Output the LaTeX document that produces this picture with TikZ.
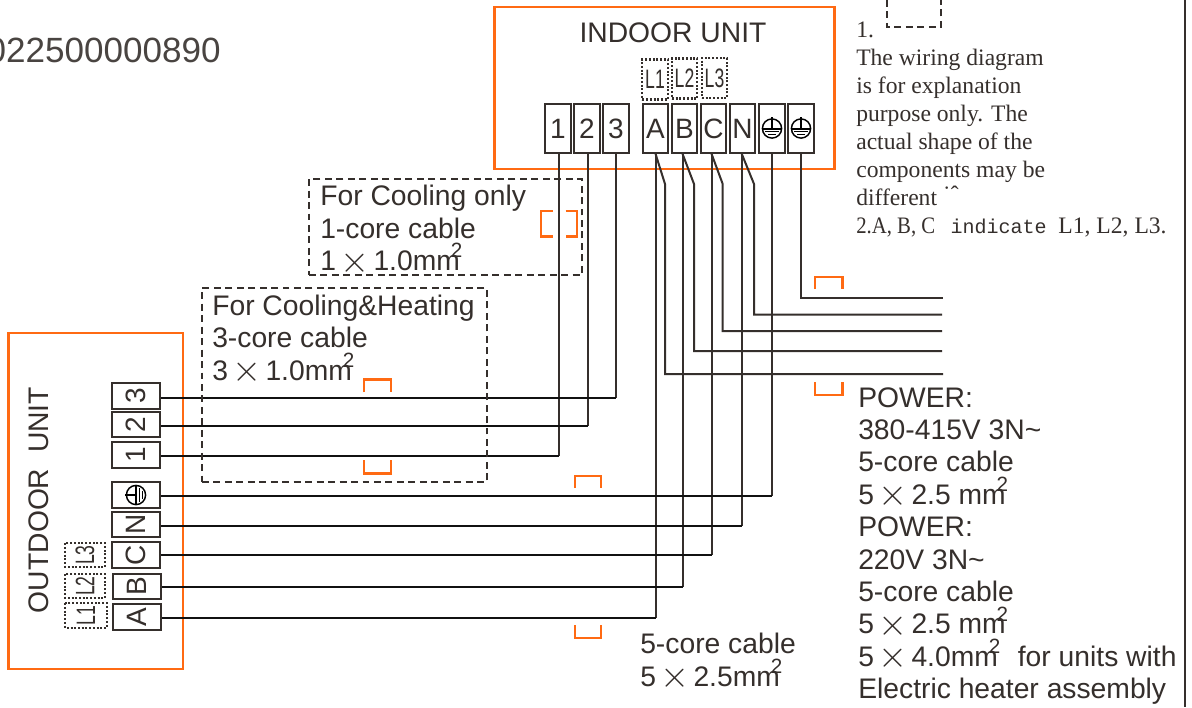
\documentclass[tikz,border=0pt]{standalone}
\usepackage{graphicx}
\usepackage{fontspec}
\setmainfont{Liberation Sans}
\newfontfamily\notefont{Liberation Serif}
\newfontfamily\monofont{Liberation Mono}
\definecolor{ink}{HTML}{352F2C}
\definecolor{wire}{HTML}{111111}
\definecolor{unit}{HTML}{FF6A13}
\newcommand{\sqmm}{\kern-0.32em\raisebox{0.45em}{\fontsize{15.5}{16}\selectfont 2}}
\newcommand{\tm}{\kern0.16em\raisebox{-0.06em}{\scalebox{1.35}{$\times$}}\kern0.14em}
\newcommand{\narrowL}[1]{\scalebox{0.66}[1]{#1}}
\tikzset{
  unitbox/.style={draw=unit,line width=2pt},
  terminal/.style={draw=ink,line width=1.35pt,minimum width=19pt,minimum height=36.5pt,inner sep=0pt,font=\fontsize{21}{21}\selectfont,text=ink},
  lbox/.style={draw=ink,line width=1.7pt,dash pattern=on 1.5pt off 1.3pt,inner sep=0pt,font=\fontsize{20}{20}\selectfont,text=ink,minimum width=19pt,minimum height=30pt},
  dashbox/.style={draw=ink,line width=0.95pt,dash pattern=on 5.2pt off 3.4pt},
  hwire/.style={draw=wire,line width=1.5pt,line join=miter},
  vwire/.style={draw=ink,line width=1.5pt},
  bracket/.style={draw=unit,line width=1.8pt},
  label/.style={inner sep=0pt,anchor=north west,align=left,text=ink,font=\fontsize{21.2}{24.3}\selectfont},
  earthline/.style={draw=black,line width=1.1pt}
}
\newcommand{\earthsym}[2]{%
  \begin{scope}[shift={(#1)},rotate=#2]
    \draw[earthline] (0,0) circle (7.2pt);
    \draw[earthline,line width=1.5pt] (-7.2pt,0) -- (7.2pt,0);
    \draw[earthline] (0,0) -- (0,8.5pt);
    \draw[earthline,line width=0.8pt] (-5pt,-2.4pt) -- (5pt,-2.4pt);
    \draw[earthline,line width=0.8pt] (-3pt,-4.6pt) -- (3pt,-4.6pt);
  \end{scope}}
\begin{document}
\begin{tikzpicture}[x=0.75pt,y=-0.75pt]
\useasboundingbox (0,0) rectangle (1192,707);
\fill[white] (0,0) rectangle (1192,707);
% units
\node[unitbox,minimum width=255pt,minimum height=121.5pt,inner sep=0pt] (indoor) at (664.5,88) {};
\node[unitbox,minimum width=131pt,minimum height=252pt,inner sep=0pt] (outdoor) at (95.7,501) {};
\node[inner sep=0pt,text=ink,font=\fontsize{21.2}{21}\selectfont] (indoorT) at (673,33) {INDOOR UNIT};
\node[inner sep=0pt,text=ink,rotate=90,font=\fontsize{21.2}{21}\selectfont] (outdoorT) at (39,500) {OUTDOOR\ \ UNIT};
% stray part number
\node[inner sep=0pt,anchor=base east,text=ink!90,font=\fontsize{26.3}{27}\selectfont] (partno) at (221,62.5) {022500000890};
% indoor terminals
\node[terminal] (i1) at (558,128.5) {1};
\node[terminal] (i2) at (587,128.5) {2};
\node[terminal] (i3) at (616,128.5) {3};
\node[terminal] (iA) at (655.5,128.5) {A};
\node[terminal] (iB) at (684.5,128.5) {B};
\node[terminal] (iC) at (713.5,128.5) {C};
\node[terminal] (iN) at (742.5,128.5) {N};
\node[terminal] (iE1) at (772,128.5) {};
\node[terminal] (iE2) at (801,128.5) {};
\earthsym{iE1}{0}
\earthsym{iE2}{0}
\node[lbox] (iL1) at (655,79.5) {\narrowL{L1}};
\node[lbox] (iL2) at (684.5,78.5) {\narrowL{L2}};
\node[lbox] (iL3) at (714.5,78) {\narrowL{L3}};
% outdoor terminals
\node[terminal,rotate=90] (o3) at (136,396) {3};
\node[terminal,rotate=90] (o2) at (136,424.5) {2};
\node[terminal,rotate=90] (o1) at (136,455) {1};
\node[terminal,rotate=90] (oE) at (136,495) {};
\node[terminal,rotate=90] (oN) at (136,524.5) {N};
\node[terminal,rotate=90] (oC) at (136,555) {C};
\node[terminal,rotate=90] (oB) at (137,586.5) {B};
\node[terminal,rotate=90] (oA) at (137,617) {A};
\earthsym{oE}{90}
\node[lbox,minimum width=17.5pt,minimum height=30pt,rotate=90] (oL3) at (85,555) {\narrowL{L3}};
\node[lbox,minimum width=17.5pt,minimum height=30pt,rotate=90] (oL2) at (85,586) {\narrowL{L2}};
\node[lbox,minimum width=18.5pt,minimum height=31pt,rotate=90] (oL1) at (86,615.5) {\narrowL{L1}};
% power line ends
\coordinate (pE) at (943,298);
\coordinate (pN) at (942,314.5);
\coordinate (pC) at (942,331);
\coordinate (pB) at (942,351);
\coordinate (pA) at (943,374);
\coordinate (bA) at (665,184);
\coordinate (bB) at (694,184);
\coordinate (bC) at (722.7,184);
\coordinate (bN) at (754,184);
% wires
\draw[vwire] ([xshift=1pt]i1.south) -- ([xshift=1pt,yshift=-0.7pt]i1.south |- o1.south);
\draw[hwire] ([yshift=-0.7pt]o1.south) -- ([xshift=1pt,yshift=-0.7pt]o1.south -| i1.south);
\draw[vwire] ([xshift=0.8pt]i2.south) -- ([xshift=0.8pt,yshift=-1pt]i2.south |- o2.south);
\draw[hwire] ([yshift=-1pt]o2.south) -- ([yshift=-1pt,xshift=0.8pt]o2.south -| i2.south);
\draw[vwire] (i3.south) -- ([yshift=-1.2pt]i3.south |- o3.south);
\draw[hwire] ([yshift=-1.2pt]o3.south) -- ([yshift=-1.2pt]o3.south -| i3.south);
\draw[vwire] (iA.south) -- ([yshift=-0.7pt]iA.south |- oA.south);
\draw[hwire] ([yshift=-0.7pt]oA.south) -- ([yshift=-0.7pt]oA.south -| iA.south);
\draw[vwire] ([xshift=-1.5pt]iB.south) -- ([xshift=-1.5pt]iB.south |- oB.south);
\draw[hwire] (oB.south) -- ([xshift=-1.5pt]oB.south -| iB.south);
\draw[vwire] ([xshift=-1.5pt]iC.south) -- ([xshift=-1.5pt]iC.south |- oC.south);
\draw[hwire] (oC.south) -- ([xshift=-1.5pt]oC.south -| iC.south);
\draw[vwire] ([xshift=-0.6pt]iN.south) -- ([xshift=-0.6pt,yshift=-1.2pt]iN.south |- oN.south);
\draw[hwire] ([yshift=-1.2pt]oN.south) -- ([xshift=-0.6pt,yshift=-1.2pt]oN.south -| iN.south);
\draw[vwire] (iE1.south) -- ([yshift=-0.8pt]iE1.south |- oE.south);
\draw[hwire] ([yshift=-0.8pt]oE.south) -- ([yshift=-0.8pt]oE.south -| iE1.south);
\draw[vwire] (iE2.south) -- (iE2.south |- pE) -- (pE);
\draw[vwire] (iA.south) -- (bA) -- (bA |- pA) -- (pA);
\draw[vwire] ([xshift=-1.5pt]iB.south) -- (bB) -- (bB |- pB) -- (pB);
\draw[vwire] ([xshift=-1.5pt]iC.south) -- (bC) -- (bC |- pC) -- (pC);
\draw[vwire] ([xshift=-0.6pt]iN.south) -- (bN) -- (bN |- pN) -- (pN);
% dashed option boxes
\node[dashbox,minimum width=204.75pt,minimum height=72pt,inner sep=0pt] (coolbox) at (445.5,227) {};
\node[dashbox,minimum width=213.75pt,minimum height=145.5pt,inner sep=0pt] (heatbox) at (344.5,385) {};
\node[label] (coolT) at (320,185) {For Cooling only\\1-core cable\\1\tm 1.0mm\sqmm};
\node[label] (heatT) at (212,294.5) {For Cooling\&Heating\\3-core cable\\3\tm 1.0mm\sqmm};
\node[label] (cableT) at (640,633) {5-core cable\\5\tm 2.5mm\sqmm};
\node[label] (powerT) at (858,387) {POWER:\\380-415V 3N\char`\~\\5-core cable\\5\tm 2.5 mm\sqmm\\POWER:\\220V 3N\char`\~\\5-core cable\\5\tm 2.5 mm\sqmm\\5\tm 4.0mm\sqmm\kern0.62em for units with\\Electric heater assembly};
% orange brackets
\draw[bracket] (364,392) -- (364,379.5) -- (391,379.5) -- (391,392);
\draw[bracket] (364,460) -- (364,473.5) -- (391,473.5) -- (391,460);
\draw[bracket] (552.7,211) -- (541,211) -- (541,236.5) -- (552.7,236.5);
\draw[bracket] (565.7,211) -- (577,211) -- (577,236.5) -- (565.7,236.5);
\draw[bracket] (575,488) -- (575,476) -- (601,476) -- (601,488);
\draw[bracket] (575,625) -- (575,638) -- (601,638) -- (601,625);
\draw[bracket] (815,289) -- (815,277) -- (842.5,277) -- (842.5,289);
\draw[bracket] (815,382) -- (815,395) -- (842.5,395) -- (842.5,382);
% note
\coordinate (dashA) at (887,0);
\coordinate (dashB) at (941,0);
\draw[dashbox,line width=1.1pt] (dashA) -- (887,27) -- (941,27) -- (dashB);
\node[inner sep=0pt,anchor=north west,align=left,text=ink,font=\notefont\fontsize{17.7}{21}\selectfont] (note) at (856,22) {1.\\The wiring diagram\\is for explanation\\purpose only. The\\actual shape of the\\components may be\\different \raisebox{0.35ex}{˙ˆ}\\\scalebox{0.88}[1]{2.A, B, C}\hspace{0.65em}{\monofont\fontsize{15}{21}\selectfont indicate}\hspace{0.5em}L1, L2, L3.};
\coordinate (rTop) at (1185,0);
\coordinate (rBot) at (1185,707);
\draw[draw=ink,line width=1.2pt] (rTop) -- (rBot);
\end{tikzpicture}
\end{document}
